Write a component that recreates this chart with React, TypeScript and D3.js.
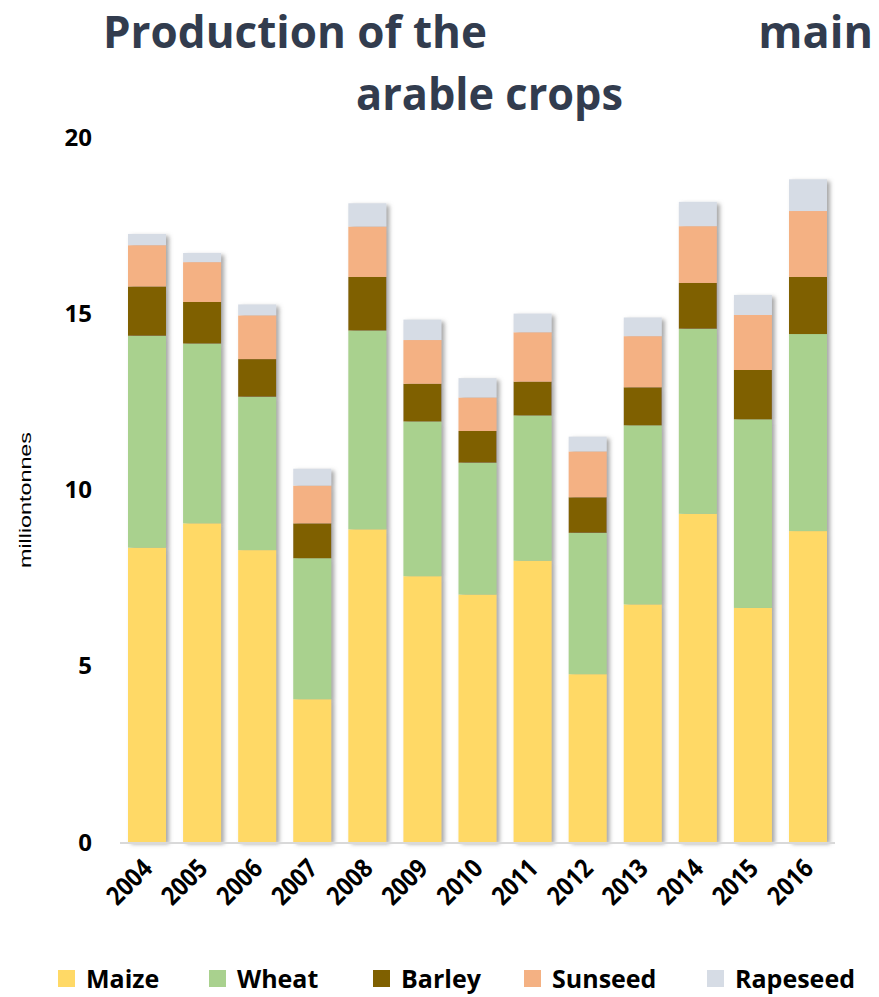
import React from 'react';
import * as d3 from 'd3';

const years = ['2004','2005','2006','2007','2008','2009','2010','2011','2012','2013','2014','2015','2016'];
const maize = [8.35, 9.04, 8.28, 4.05, 8.87, 7.54, 7.02, 7.98, 4.76, 6.74, 9.31, 6.64, 8.82];
const wheat = [6.01, 5.10, 4.35, 4.00, 5.64, 4.39, 3.74, 4.12, 4.01, 5.08, 5.25, 5.35, 5.59];
const barley = [1.40, 1.18, 1.07, 0.99, 1.52, 1.07, 0.90, 0.96, 1.01, 1.08, 1.30, 1.40, 1.62];
const sunseed = [1.17, 1.13, 1.24, 1.07, 1.43, 1.24, 0.95, 1.40, 1.30, 1.45, 1.61, 1.56, 1.87];
const rapeseed = [0.32, 0.26, 0.31, 0.48, 0.66, 0.58, 0.55, 0.53, 0.42, 0.53, 0.69, 0.57, 0.90];
const seriesNames = ['Maize', 'Wheat', 'Barley', 'Sunseed', 'Rapeseed'];
const seriesColors = ['#FFD966', '#A9D18E', '#7F6000', '#F4B183', '#D6DCE5'];
const yTicks = [0, 5, 10, 15, 20];

const W = 879, H = 997;
const legendX = [58, 209, 373, 524, 707];

export default function App() {
  const rows = years.map((y, i) => ({
    year: y, Maize: maize[i], Wheat: wheat[i], Barley: barley[i], Sunseed: sunseed[i], Rapeseed: rapeseed[i],
  }));
  const stacked = d3.stack<any>().keys(seriesNames)(rows);
  const x = d3.scaleBand<string>().domain(years).range([128, 827]).paddingInner(0.31).paddingOuter(0);
  const y = d3.scaleLinear().domain([0, 20]).range([842, 137]);
  const font = "'Open Sans', sans-serif";

  return (
    <svg width={W} height={H} style={{ position: 'absolute', left: 0, top: 0, background: '#fff' }}>
      <defs>
        <filter id="sh" x="-20%" y="-5%" width="150%" height="110%">
          <feDropShadow dx={3} dy={2} stdDeviation={2} floodColor="#808080" floodOpacity={0.7} />
        </filter>
      </defs>
      {/* Title */}
      <g fill="#323C4E" fontFamily={font} fontWeight={700} fontSize={45}>
        <text x={103} y={48} textLength={384} lengthAdjust="spacingAndGlyphs">Production of the</text>
        <text x={873} y={48} textAnchor="end">main</text>
        <text x={356} y={110} textLength={267} lengthAdjust="spacingAndGlyphs">arable crops</text>
      </g>
      {/* y axis title */}
      <text transform="translate(31,500) rotate(-90)" textAnchor="middle" fontFamily="'Liberation Sans', Arial, sans-serif"
        fontSize={17} textLength={136} lengthAdjust="spacingAndGlyphs">milliontonnes</text>
      {/* y ticks */}
      <g fontFamily={font} fontWeight={700} fontSize={24} fill="#000">
        {yTicks.map(t => (
          <text key={t} x={92} y={y(t)} dy="0.36em" textAnchor="end">{t}</text>
        ))}
      </g>
      {/* bars */}
      {years.map((yr, i) => (
        <g key={yr} filter="url(#sh)">
          {stacked.map((s, k) => (
            <rect key={k} x={x(yr)} width={x.bandwidth()} y={y(s[i][1])} height={y(s[i][0]) - y(s[i][1])}
              fill={seriesColors[k]} />
          ))}
        </g>
      ))}
      <line x1={120} x2={835} y1={843} y2={843} stroke="#D9D9D9" strokeWidth={2} />
      {/* x labels */}
      <g fontFamily={font} fontWeight={700} fontSize={26} fill="#000">
        {years.map(yr => (
          <text key={yr} textAnchor="end" textLength={52} lengthAdjust="spacingAndGlyphs"
            transform={`translate(${(x(yr) as number) + x.bandwidth() / 2 + 7},870) rotate(-45)`}>{yr}</text>
        ))}
      </g>
      {/* legend */}
      <g fontFamily={font} fontWeight={700} fontSize={25} fill="#000">
        {seriesNames.map((n, k) => (
          <g key={n}>
            <rect x={legendX[k]} y={970} width={17} height={17} fill={seriesColors[k]} />
            <text x={legendX[k] + 28} y={988}>{n}</text>
          </g>
        ))}
      </g>
    </svg>
  );
}
